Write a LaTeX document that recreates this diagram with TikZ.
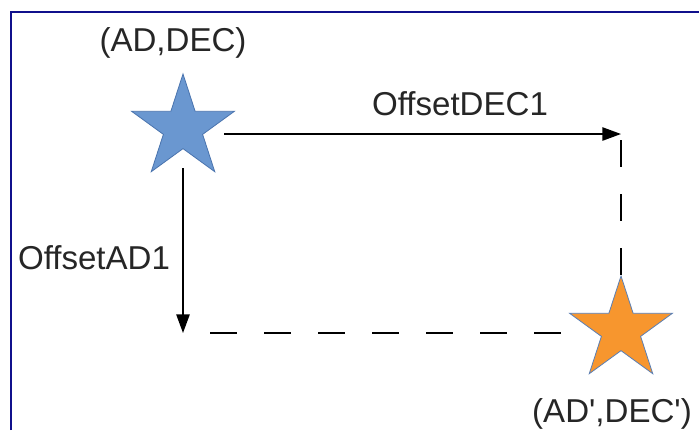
\documentclass[tikz,border=0pt]{standalone}
\usepackage{fontspec}
\setmainfont{Liberation Sans}
\usetikzlibrary{shapes.geometric,arrows.meta}
\definecolor{framec}{HTML}{10108C}
\definecolor{bluefill}{HTML}{6A97D0}
\definecolor{blueline}{HTML}{4A74AE}
\definecolor{orangefill}{HTML}{F7962E}
\definecolor{orangeline}{HTML}{5A7FB5}
\begin{document}
\begin{tikzpicture}[x=0.75pt,y=-0.75pt,
  starshape/.style={star,star points=5,star point ratio=2.618,inner sep=0pt,minimum size=108*0.75pt,line width=0.6pt},
  lbl/.style={font=\fontsize{24.8}{28}\selectfont,text=black!85,inner sep=0pt},
  conn/.style={line width=1.2pt,black},
  tip/.style={-{Triangle[length=14pt,width=10pt]}},
  dashline/.style={conn,dash pattern=on 20.25pt off 20.25pt}
]
\useasboundingbox[fill=white] (0,0) rectangle (699,430);
\draw[framec,line width=1.6pt] (11,430) -- (11,12) -- (699,12);
\node[starshape,fill=bluefill,draw=blueline] (bs) at (183,128) {};
\node[starshape,fill=orangefill,draw=orangeline] (os) at (621,330) {};
\coordinate (h0) at (224,134);
\coordinate (c1) at (621,134);
\coordinate (v0) at (183,168);
\coordinate (c2) at (183,333);
\coordinate (d2) at (565,333);
\draw[conn,tip] (h0) -- (c1);
\draw[conn,tip] (v0) -- (c2);
\draw[dashline,dash phase=-4.5pt] (c1) -- (os.north);
\draw[dashline,dash phase=20.25pt] (c2) -- (d2);
\node[lbl] (t1) at (173,43) {(AD,DEC)};
\node[lbl] (t2) at (460,104) {OffsetDEC1};
\node[lbl] (t3) at (94,258) {OffsetAD1};
\node[lbl] (t4) at (612,414) {(AD\textquotesingle,DEC\textquotesingle)};
\end{tikzpicture}
\end{document}
